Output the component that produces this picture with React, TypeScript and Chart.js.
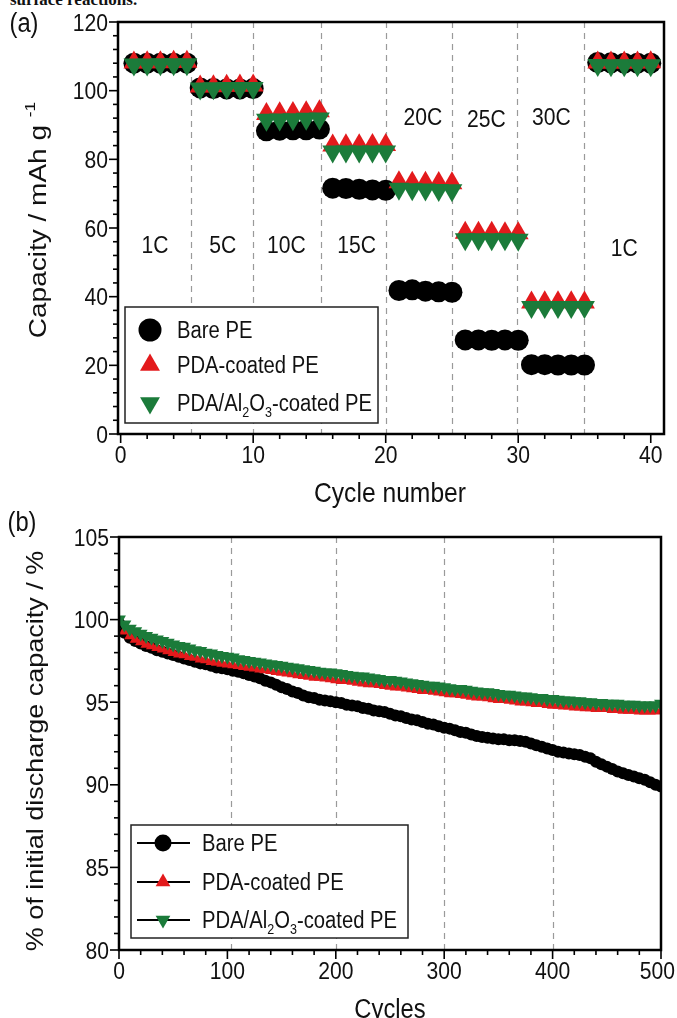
import React, { useEffect, useRef } from 'react';
import { Chart, registerables } from 'chart.js';
Chart.register(...registerables);

const FAMILY = '"Liberation Sans", Arial, sans-serif';
const font = (px: number) => `${px}px ${FAMILY}`;
const SQ = 0.88; // horizontal squeeze of the figure's lettering
const RED = '#e31a1c';
const GREEN = '#1b7b3a';
const BLACK = '#000000';
const INK = '#111111';

// ---------- (a) rate capability ----------
const rateCycle = [1, 2, 3, 4, 5, 6, 7, 8, 9, 10, 11, 12, 13, 14, 15, 16, 17, 18, 19, 20, 21, 22, 23, 24, 25, 26, 27, 28, 29, 30, 31, 32, 33, 34, 35, 36, 37, 38, 39, 40];
const bareRate = [108, 108, 108, 108, 108, 100.8, 100.6, 100.5, 100.5, 100.6, 88.3, 88.5, 88.6, 88.6, 88.8, 71.6, 71.5, 71.3, 71.1, 71.0, 41.8, 42.0, 41.6, 41.4, 41.3, 27.4, 27.4, 27.3, 27.4, 27.3, 20.2, 20.2, 20.1, 20.1, 20.1, 108.2, 108.1, 108, 108, 108];
const pdaRate = [108.2, 108.3, 108.3, 108.4, 108.4, 101.2, 101.3, 101.4, 101.5, 101.5, 93.2, 93.4, 93.5, 93.7, 94.0, 84.0, 84.1, 84.1, 84.2, 84.2, 73.3, 73.2, 73.2, 73.1, 73.0, 58.6, 58.6, 58.6, 58.5, 58.5, 38.3, 38.4, 38.4, 38.4, 38.3, 108.2, 108.2, 108.2, 108.2, 108.3];
const alRate = [107.6, 107.6, 107.7, 107.7, 107.7, 100.6, 100.7, 100.8, 100.8, 100.8, 91.5, 91.6, 91.7, 91.8, 91.9, 82.3, 82.3, 82.3, 82.3, 82.3, 71.4, 71.3, 71.2, 71.1, 71.0, 56.7, 56.7, 56.7, 56.7, 56.6, 37.0, 37.0, 37.0, 37.0, 37.0, 107.5, 107.4, 107.4, 107.4, 107.4];
const rateNames = ['1C', '5C', '10C', '15C', '20C', '25C', '30C', '1C'];
const rateBoundaries = [5.3, 10.0, 15.1, 20.0, 25.0, 29.9, 35.0];
const xTicksA = [0, 10, 20, 30, 40];
const yTicksA = [0, 20, 40, 60, 80, 100, 120];
// label anchor positions (data coordinates)
const rateNamePos = [[2.6, 55.2], [7.7, 55.2], [12.5, 55.2], [17.8, 55.2], [22.8, 92.6], [27.6, 92], [32.5, 92.6], [38.0, 54.5]];

// ---------- (b) cycling ----------
const cycleNo = [0, 5, 10, 15, 20, 25, 30, 35, 40, 45, 50, 55, 60, 65, 70, 75, 80, 85, 90, 95, 100, 105, 110, 115, 120, 125, 130, 135, 140, 145, 150, 155, 160, 165, 170, 175, 180, 185, 190, 195, 200, 205, 210, 215, 220, 225, 230, 235, 240, 245, 250, 255, 260, 265, 270, 275, 280, 285, 290, 295, 300, 305, 310, 315, 320, 325, 330, 335, 340, 345, 350, 355, 360, 365, 370, 375, 380, 385, 390, 395, 400, 405, 410, 415, 420, 425, 430, 435, 440, 445, 450, 455, 460, 465, 470, 475, 480, 485, 490, 495, 500];
const bareCyc = [
  99.8, 99.2, 98.9, 98.7, 98.55, 98.4, 98.3, 98.15, 98.05, 97.95,
  97.85, 97.75, 97.65, 97.55, 97.45, 97.35, 97.3, 97.2, 97.1, 97.05,
  97.0, 96.9, 96.85, 96.75, 96.65, 96.55, 96.45, 96.3, 96.2, 96.05,
  95.9, 95.8, 95.65, 95.55, 95.4, 95.3, 95.25, 95.15, 95.1, 95.05,
  95.0, 94.95, 94.85, 94.8, 94.75, 94.65, 94.6, 94.5, 94.45, 94.4,
  94.3, 94.2, 94.15, 94.05, 93.95, 93.9, 93.8, 93.7, 93.65, 93.55,
  93.45, 93.4, 93.3, 93.2, 93.15, 93.05, 92.95, 92.9, 92.85, 92.8,
  92.75, 92.75, 92.7, 92.7, 92.65, 92.6, 92.5, 92.4, 92.3, 92.2,
  92.1, 92.0, 91.95, 91.9, 91.85, 91.8, 91.7, 91.6, 91.4, 91.25,
  91.1, 90.95, 90.8, 90.7, 90.6, 90.5, 90.4, 90.3, 90.15, 90.0,
  89.9];
const pdaCyc = [
  99.9, 99.3, 99.0, 98.8, 98.65, 98.5, 98.4, 98.3, 98.2, 98.1,
  98.0, 97.9, 97.85, 97.75, 97.7, 97.6, 97.55, 97.45, 97.4, 97.35,
  97.3, 97.25, 97.2, 97.15, 97.1, 97.05, 97.0, 96.95, 96.9, 96.85,
  96.8, 96.75, 96.7, 96.65, 96.6, 96.55, 96.5, 96.5, 96.45, 96.4,
  96.35, 96.3, 96.3, 96.25, 96.2, 96.15, 96.1, 96.1, 96.05, 96.0,
  95.95, 95.9, 95.9, 95.85, 95.8, 95.75, 95.7, 95.7, 95.65, 95.6,
  95.55, 95.5, 95.5, 95.45, 95.4, 95.35, 95.3, 95.3, 95.25, 95.2,
  95.15, 95.15, 95.1, 95.05, 95.0, 95.0, 94.95, 94.9, 94.9, 94.85,
  94.8, 94.8, 94.75, 94.75, 94.7, 94.7, 94.65, 94.65, 94.6, 94.6,
  94.6, 94.55, 94.55, 94.5, 94.5, 94.5, 94.45, 94.45, 94.45, 94.45,
  94.5];
const alCyc = [
  100.0, 99.7, 99.45, 99.3, 99.15, 99.0, 98.9, 98.8, 98.7, 98.6,
  98.5, 98.4, 98.35, 98.25, 98.15, 98.1, 98.0, 97.95, 97.85, 97.8,
  97.75, 97.7, 97.6, 97.55, 97.5, 97.45, 97.4, 97.35, 97.3, 97.25,
  97.2, 97.15, 97.1, 97.05, 97.0, 96.95, 96.9, 96.85, 96.8, 96.8,
  96.75, 96.7, 96.65, 96.6, 96.55, 96.55, 96.5, 96.45, 96.4, 96.35,
  96.35, 96.3, 96.25, 96.2, 96.15, 96.1, 96.05, 96.0, 96.0, 95.95,
  95.9, 95.85, 95.8, 95.8, 95.75, 95.7, 95.65, 95.6, 95.6, 95.55,
  95.5, 95.45, 95.45, 95.4, 95.35, 95.35, 95.3, 95.25, 95.25, 95.2,
  95.2, 95.15, 95.1, 95.1, 95.05, 95.05, 95.0, 95.0, 94.95, 94.95,
  94.9, 94.9, 94.9, 94.85, 94.85, 94.85, 94.8, 94.8, 94.8, 94.8,
  94.9];
const cycleDashes = [103, 200, 300, 400];
const xTicksB = [0, 100, 200, 300, 400, 500];
const yTicksB = [80, 85, 90, 95, 100, 105];

const seriesNames = ['Bare PE', 'PDA-coated PE', 'PDA/Al2O3-coated PE'];

type Seg = { t: string; s?: 'sub' | 'sup' };
const legendSegs: Seg[][] = [
  [{ t: 'Bare PE' }],
  [{ t: 'PDA-coated PE' }],
  [{ t: 'PDA/Al' }, { t: '2', s: 'sub' }, { t: 'O' }, { t: '3', s: 'sub' }, { t: '-coated PE' }],
];

function richWidth(ctx: CanvasRenderingContext2D, segs: Seg[], size: number, sq: number) {
  const small = size * 0.62;
  let w = 0;
  for (const s of segs) {
    ctx.font = font(s.s ? small : size);
    w += ctx.measureText(s.t).width;
  }
  return w * sq;
}

// draw text (with optional sub/superscripts) at (x, baseY), squeezed horizontally by sq
function drawRich(ctx: CanvasRenderingContext2D, segs: Seg[], x: number, baseY: number, size: number, align: 'left' | 'center' | 'right', sq: number) {
  const small = size * 0.62;
  const widths = segs.map((s) => {
    ctx.font = font(s.s ? small : size);
    return ctx.measureText(s.t).width;
  });
  const total = widths.reduce((a, b) => a + b, 0);
  ctx.save();
  ctx.translate(x, baseY);
  ctx.scale(sq, 1);
  let cx = align === 'center' ? -total / 2 : align === 'right' ? -total : 0;
  ctx.textAlign = 'left';
  ctx.textBaseline = 'alphabetic';
  segs.forEach((s, i) => {
    ctx.font = font(s.s ? small : size);
    const dy = s.s === 'sub' ? size * 0.25 : s.s === 'sup' ? -size * 0.45 : 0;
    ctx.fillText(s.t, cx, dy);
    cx += widths[i];
  });
  ctx.restore();
}

function drawMarker(ctx: CanvasRenderingContext2D, kind: string, x: number, y: number, r: number, color: string) {
  ctx.fillStyle = color;
  ctx.beginPath();
  if (kind === 'circle') {
    ctx.arc(x, y, r, 0, Math.PI * 2);
  } else if (kind === 'up') {
    ctx.moveTo(x, y - r);
    ctx.lineTo(x + r * 0.866, y + r * 0.5);
    ctx.lineTo(x - r * 0.866, y + r * 0.5);
  } else {
    ctx.moveTo(x, y + r);
    ctx.lineTo(x + r * 0.866, y - r * 0.5);
    ctx.lineTo(x - r * 0.866, y - r * 0.5);
  }
  ctx.closePath();
  ctx.fill();
}

interface Deco {
  dashed: number[];
  xMinorStep: number;
  yMinorStep: number;
  xTicks: number[];
  yTicks: number[];
  tickSize: number;
  xTitle: Seg[];
  xTitleAt: [number, number];
  yTitle: Seg[];
  yTitleAt: [number, number];
  titleSize: number;
  panel: string;
  panelAt: [number, number];
  legendBox: [number, number, number, number];
  legendRows: number[];
  legendMarkerX: number;
  legendTextX: number;
  legendLine: [number, number] | null;
  legendMarkerR: number;
  legendSize: number;
  notes: { text: string; x: number; y: number }[];
}

function makeDeco(d: Deco) {
  return {
    id: 'deco',
    beforeDatasetsDraw(chart: any) {
      const { ctx, chartArea: a, scales } = chart;
      ctx.save();
      ctx.strokeStyle = '#9a9a9a';
      ctx.lineWidth = 1.2;
      ctx.setLineDash([6, 5]);
      for (const v of d.dashed) {
        const px = Math.round(scales.x.getPixelForValue(v)) + 0.5;
        ctx.beginPath();
        ctx.moveTo(px, a.top);
        ctx.lineTo(px, a.bottom);
        ctx.stroke();
      }
      ctx.restore();
    },
    afterDraw(chart: any) {
      const { ctx, chartArea: a, scales, width } = chart;
      const xs = scales.x;
      const ys = scales.y;
      ctx.save();
      ctx.fillStyle = INK;
      // notes inside plot
      for (const n of d.notes) {
        drawRich(ctx, [{ t: n.text }], xs.getPixelForValue(n.x), ys.getPixelForValue(n.y) + 24 * 0.36, 24, 'center', SQ);
      }
      // frame
      ctx.strokeStyle = BLACK;
      ctx.lineWidth = 2.5;
      ctx.strokeRect(a.left, a.top, a.right - a.left, a.bottom - a.top);
      // ticks
      ctx.lineWidth = 1.6;
      const x0 = xs.min, x1 = xs.max, y0 = ys.min, y1 = ys.max;
      for (let v = Math.ceil(x0 / d.xMinorStep) * d.xMinorStep; v <= x1 + 1e-9; v += d.xMinorStep) {
        const major = d.xTicks.some((t) => Math.abs(t - v) < 1e-6);
        const px = xs.getPixelForValue(v);
        ctx.beginPath();
        ctx.moveTo(px, a.bottom);
        ctx.lineTo(px, a.bottom + (major ? 9 : 5));
        ctx.stroke();
      }
      for (let v = Math.ceil(y0 / d.yMinorStep) * d.yMinorStep; v <= y1 + 1e-9; v += d.yMinorStep) {
        const major = d.yTicks.some((t) => Math.abs(t - v) < 1e-6);
        const py = ys.getPixelForValue(v);
        ctx.beginPath();
        ctx.moveTo(a.left, py);
        ctx.lineTo(a.left - (major ? 9 : 5), py);
        ctx.stroke();
      }
      // tick labels
      ctx.fillStyle = INK;
      for (const v of d.xTicks) {
        const seg = [{ t: String(v) }];
        const w = richWidth(ctx, seg, d.tickSize, SQ);
        let cx = xs.getPixelForValue(v);
        if (cx + w / 2 > width - 2) cx = width - 2 - w / 2;
        drawRich(ctx, seg, cx, a.bottom + 12 + d.tickSize * 0.72, d.tickSize, 'center', SQ);
      }
      for (const v of d.yTicks) {
        drawRich(ctx, [{ t: String(v) }], a.left - 10, ys.getPixelForValue(v) + d.tickSize * 0.36, d.tickSize, 'right', SQ);
      }
      // legend
      const [lx, ly, lw, lh] = d.legendBox;
      ctx.fillStyle = '#ffffff';
      ctx.fillRect(lx, ly, lw, lh);
      ctx.lineWidth = 1.5;
      ctx.strokeStyle = '#222';
      ctx.strokeRect(lx, ly, lw, lh);
      const kinds = ['circle', 'up', 'down'];
      const colors = [BLACK, RED, GREEN];
      d.legendRows.forEach((ry, i) => {
        if (d.legendLine) {
          ctx.strokeStyle = BLACK;
          ctx.lineWidth = 2;
          ctx.beginPath();
          ctx.moveTo(d.legendLine[0], ry);
          ctx.lineTo(d.legendLine[1], ry);
          ctx.stroke();
        }
        drawMarker(ctx, kinds[i], d.legendMarkerX, ry, d.legendMarkerR, colors[i]);
        ctx.fillStyle = INK;
        drawRich(ctx, legendSegs[i], d.legendTextX, ry + d.legendSize * 0.36, d.legendSize, 'left', SQ);
      });
      // titles
      ctx.fillStyle = INK;
      drawRich(ctx, d.xTitle, d.xTitleAt[0], d.xTitleAt[1] + d.titleSize * 0.36, d.titleSize, 'center', SQ);
      ctx.save();
      ctx.translate(d.yTitleAt[0], d.yTitleAt[1]);
      ctx.rotate(-Math.PI / 2);
      ctx.scale(1, SQ);
      drawRich(ctx, d.yTitle, 0, d.titleSize * 0.36, d.titleSize, 'center', 1);
      ctx.restore();
      drawRich(ctx, [{ t: d.panel }], d.panelAt[0], d.panelAt[1] + 27 * 0.36, 27, 'center', SQ);
      ctx.restore();
    },
  };
}

function axisCommon(min: number, max: number, fit: (s: any) => void) {
  return {
    type: 'linear' as const,
    min,
    max,
    grid: { display: false, drawTicks: false },
    border: { display: false },
    afterFit: fit,
    ticks: { display: false },
  };
}

function configA(): any {
  const pts = (ys: number[]) => rateCycle.map((x, i) => ({ x, y: ys[i] }));
  return {
    type: 'scatter',
    data: {
      datasets: [
        { label: seriesNames[2], data: pts(alRate), pointStyle: 'triangle', pointRotation: 180, pointRadius: 12, pointBackgroundColor: GREEN, pointBorderWidth: 0, order: 0 },
        { label: seriesNames[1], data: pts(pdaRate), pointStyle: 'triangle', pointRadius: 12, pointBackgroundColor: RED, pointBorderWidth: 0, order: 1 },
        { label: seriesNames[0], data: pts(bareRate), pointStyle: 'circle', pointRadius: 10.5, pointBackgroundColor: BLACK, pointBorderWidth: 0, order: 2 },
      ],
    },
    options: {
      responsive: false,
      animation: false,
      devicePixelRatio: 1,
      events: [],
      layout: { padding: { top: 22, right: 13, left: 0, bottom: 0 } },
      plugins: { legend: { display: false }, tooltip: { enabled: false } },
      scales: {
        x: axisCommon(-0.2, 41, (s: any) => { s.height = 76; }),
        y: axisCommon(0, 120, (s: any) => { s.width = 118; }),
      },
    },
    plugins: [
      makeDeco({
        dashed: rateBoundaries,
        xMinorStep: 2,
        yMinorStep: 4,
        xTicks: xTicksA,
        yTicks: yTicksA,
        tickSize: 24,
        xTitle: [{ t: 'Cycle number' }],
        xTitleAt: [390, 492],
        yTitle: [{ t: 'Capacity / mAh g ' }, { t: '-1', s: 'sup' }],
        yTitleAt: [37, 220],
        titleSize: 28,
        panel: '(a)',
        panelAt: [24, 22],
        legendBox: [125, 307, 253, 116],
        legendRows: [330, 365, 403],
        legendMarkerX: 150,
        legendTextX: 177,
        legendLine: null,
        legendMarkerR: 11.5,
        legendSize: 23,
        notes: rateNames.map((t, i) => ({ text: t, x: rateNamePos[i][0], y: rateNamePos[i][1] })),
      }),
    ],
  };
}

function configB(): any {
  const pts = (ys: number[]) => cycleNo.map((x, i) => ({ x, y: ys[i] }));
  return {
    type: 'scatter',
    data: {
      datasets: [
        { label: seriesNames[2], data: pts(alCyc), showLine: true, borderColor: GREEN, borderWidth: 1, pointStyle: 'triangle', pointRotation: 180, pointRadius: 8, pointBackgroundColor: GREEN, pointBorderWidth: 0, order: 0 },
        { label: seriesNames[1], data: pts(pdaCyc), showLine: true, borderColor: RED, borderWidth: 1, pointStyle: 'triangle', pointRadius: 6.5, pointBackgroundColor: RED, pointBorderWidth: 0, order: 1 },
        { label: seriesNames[0], data: pts(bareCyc), showLine: true, borderColor: BLACK, borderWidth: 1, pointStyle: 'circle', pointRadius: 6, pointBackgroundColor: BLACK, pointBorderWidth: 0, order: 2 },
      ],
    },
    options: {
      responsive: false,
      animation: false,
      devicePixelRatio: 1,
      events: [],
      layout: { padding: { top: 27, right: 16, left: 0, bottom: 0 } },
      plugins: { legend: { display: false }, tooltip: { enabled: false } },
      scales: {
        x: axisCommon(0, 500, (s: any) => { s.height = 68; }),
        y: axisCommon(80, 105, (s: any) => { s.width = 119; }),
      },
    },
    plugins: [
      makeDeco({
        dashed: cycleDashes,
        xMinorStep: 20,
        yMinorStep: 1,
        xTicks: xTicksB,
        yTicks: yTicksB,
        tickSize: 24,
        xTitle: [{ t: 'Cycles' }],
        xTitleAt: [390, 498],
        yTitle: [{ t: '% of initial discharge capacity / %' }],
        yTitleAt: [34, 241],
        titleSize: 27,
        panel: '(b)',
        panelAt: [22, 11],
        legendBox: [131, 315, 277, 113],
        legendRows: [333, 372, 410],
        legendMarkerX: 163,
        legendTextX: 202,
        legendLine: [137, 190],
        legendMarkerR: 8.5,
        legendSize: 23,
        notes: [],
      }),
    ],
  };
}

export default function App() {
  const refA = useRef<HTMLCanvasElement>(null);
  const refB = useRef<HTMLCanvasElement>(null);
  useEffect(() => {
    const a = new Chart(refA.current as HTMLCanvasElement, configA());
    const b = new Chart(refB.current as HTMLCanvasElement, configB());
    return () => {
      a.destroy();
      b.destroy();
    };
  }, []);
  return (
    <div style={{ position: 'absolute', left: 0, top: 0, width: 677, height: 1018, overflow: 'hidden', background: '#fff' }}>
      <div style={{ position: 'absolute', left: 10, top: -9, font: 'bold 17px "Liberation Serif", serif', lineHeight: '17px', whiteSpace: 'nowrap', color: '#111' }}>
        surface reactions.
      </div>
      <canvas ref={refA} width={677} height={510} style={{ position: 'absolute', left: 0, top: 0, width: 677, height: 510 }} />
      <canvas ref={refB} width={677} height={508} style={{ position: 'absolute', left: 0, top: 510, width: 677, height: 508 }} />
    </div>
  );
}
